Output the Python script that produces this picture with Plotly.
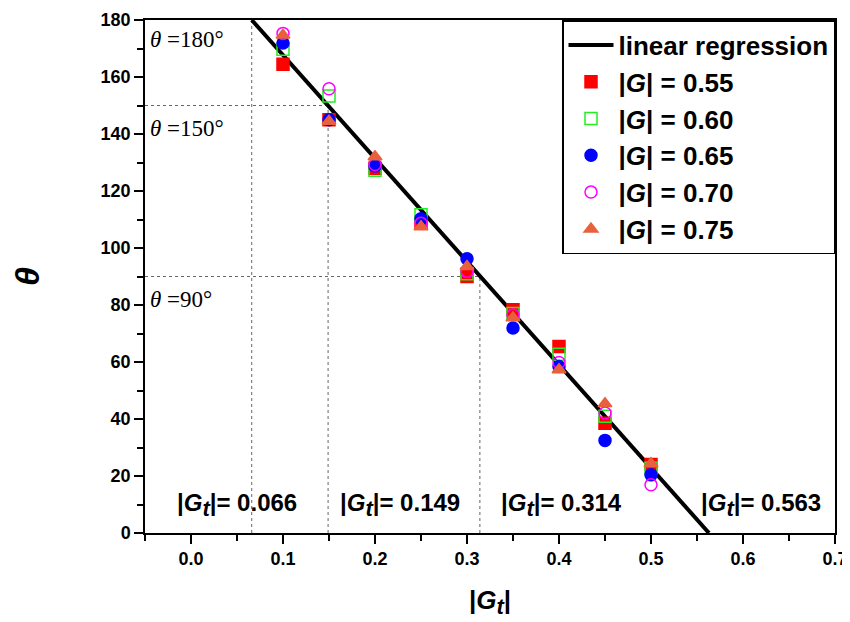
import plotly.graph_objects as go

# data
gt = [0.10, 0.15, 0.20, 0.25, 0.30, 0.35, 0.40, 0.45, 0.50]
theta_055 = [164.5, 145.0, 128.0, 109.0, 90.0, 78.3, 65.4, 38.5, 24.0]
theta_060 = [169.7, 153.3, 127.3, 111.7, 91.0, 77.0, 62.7, 41.0, 22.7]
theta_065 = [171.9, 145.0, 128.8, 110.3, 96.2, 71.9, 58.4, 32.5, 20.4]
theta_070 = [175.3, 155.9, 129.3, 108.7, 91.8, 76.5, 59.8, 42.1, 16.9]
theta_075 = [174.7, 144.5, 132.0, 107.5, 93.5, 75.5, 57.3, 45.4, 24.3]

reg_gt = [0.066, 0.563]
reg_theta = [180, 0]

crit_gt = [0.066, 0.149, 0.314, 0.563]
crit_theta = [180, 150, 90, 0]

series = [
    ("0.55", theta_055, "square", "#FF0000"),
    ("0.60", theta_060, "square-open", "#22EE22"),
    ("0.65", theta_065, "circle", "#0000FF"),
    ("0.70", theta_070, "circle-open", "#FF00FF"),
    ("0.75", theta_075, "triangle-up", "#E8603C"),
]

fig = go.Figure()

fig.add_trace(go.Scatter(x=reg_gt, y=reg_theta, mode="lines",
                         line=dict(color="black", width=4),
                         name="linear regression"))

for lab, ys, sym, col in series:
    fig.add_trace(go.Scatter(x=gt, y=ys, mode="markers",
                             marker=dict(symbol=sym, color=col, size=12,
                                         line=dict(color=col, width=1.5)),
                             name="|<i>G</i>| = " + lab))

# dashed guide lines
dash = dict(color="#666666", width=1, dash="3px,3px")
for g, t in zip(crit_gt[:3], crit_theta[:3]):
    fig.add_shape(type="line", x0=g, x1=g, y0=0, y1=t,
                  xref="x", yref="y", line=dash, layer="below")
    if t < 180:
        fig.add_shape(type="line", x0=-0.05, x1=g, y0=t, y1=t,
                      xref="x", yref="y", line=dash, layer="below")

# theta labels
for t, ypos in zip(crit_theta[:3], [173, 142, 82]):
    fig.add_annotation(x=-0.047, y=ypos, xref="x", yref="y", xanchor="left",
                       text="<i>θ</i> =" + str(t) + "°", showarrow=False,
                       font=dict(family="Liberation Serif", size=23, color="black"))

# critical |Gt| labels
sub_t = "<sub><span style='font-size:22px'><i>t</i></span></sub>"
for g, xpos in zip(crit_gt, [0.050, 0.227, 0.403, 0.62]):
    fig.add_annotation(x=xpos, y=10, xref="x", yref="y",
                       text="|<i>G</i>" + sub_t + "|= " + format(g, ".3f"),
                       showarrow=False,
                       font=dict(family="Liberation Sans", size=24, color="black", weight="bold"))

# page body has an 8px margin, so the figure is shrunk by that
fig.update_layout(
    width=842, height=614,
    margin=dict(l=137, r=15, t=12, b=89),
    plot_bgcolor="white", paper_bgcolor="white",
    font=dict(family="Liberation Sans", color="black"),
    showlegend=True,
    legend=dict(x=1, y=1, xanchor="right", yanchor="top",
                bordercolor="black", borderwidth=1.5, bgcolor="white",
                font=dict(size=26, weight="bold"), itemwidth=45),
)

fig.update_xaxes(range=[-0.05, 0.7], tickvals=[0, 0.1, 0.2, 0.3, 0.4, 0.5, 0.6, 0.7],
                 ticktext=["0.0", "0.1", "0.2", "0.3", "0.4", "0.5", "0.6", "0.7"],
                 ticks="outside", ticklen=9, tickwidth=1.5, tickcolor="black",
                 minor=dict(tickvals=[-0.05, 0.05, 0.15, 0.25, 0.35, 0.45, 0.55, 0.65],
                            ticks="outside", ticklen=6, tickcolor="black", tickwidth=1.5),
                 showline=True, linecolor="black", linewidth=1.5, mirror=True,
                 showgrid=False, zeroline=False, automargin=False,
                 tickfont=dict(size=18, weight="bold"),
                 title=dict(text="|<i>G</i><sub><span style='font-size:22px'><i>t</i></span></sub>|",
                            standoff=22, font=dict(size=26, weight="bold")))

fig.update_yaxes(range=[0, 180], dtick=20,
                 ticks="outside", ticklen=9, tickwidth=1.5, tickcolor="black",
                 minor=dict(dtick=10, ticks="outside", ticklen=6, tickcolor="black", tickwidth=1.5),
                 showline=True, linecolor="black", linewidth=1.5, mirror=True,
                 showgrid=False, zeroline=False, automargin=False,
                 tickfont=dict(size=18, weight="bold"),
                 title=dict(text="<i>θ</i>", standoff=60,
                            font=dict(size=34, weight="bold")))

fig.write_html("out.html")
